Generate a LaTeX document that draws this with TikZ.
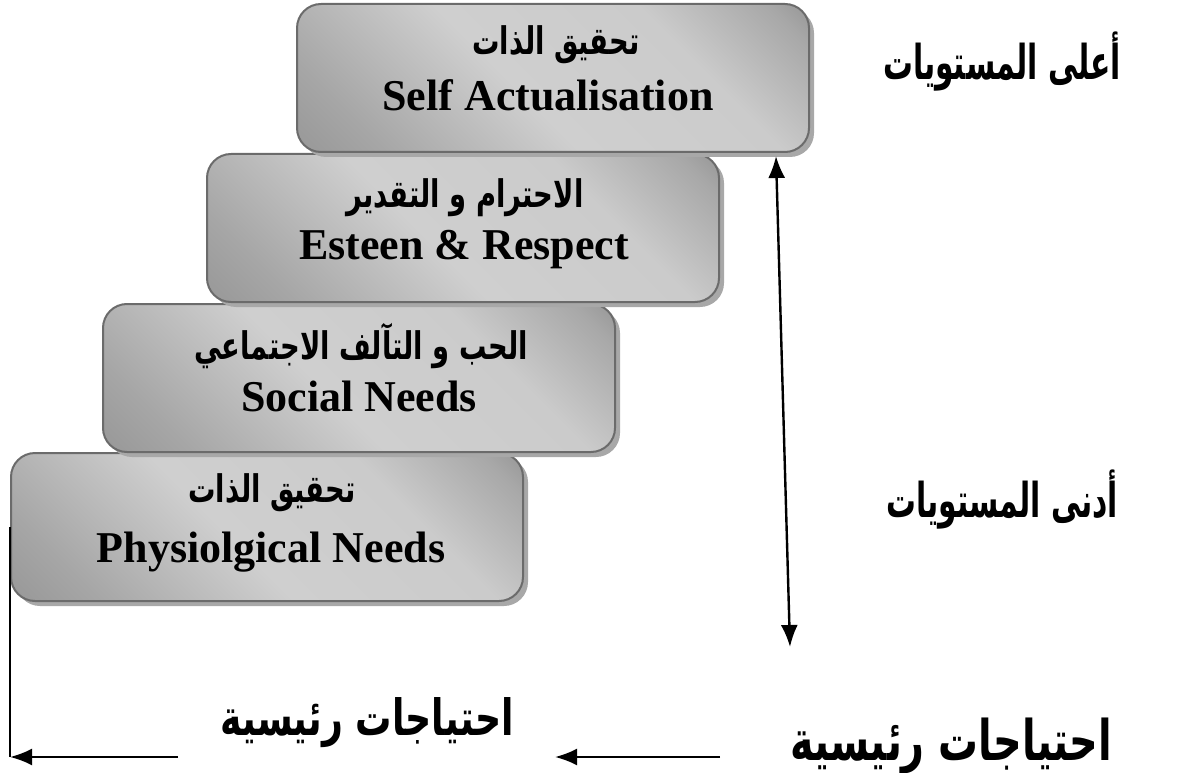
\documentclass[tikz,border=0pt]{standalone}
\usepackage{fontspec}
\setmainfont{Liberation Serif}
\newfontfamily\arabicfont[Script=Arabic]{DejaVu Sans}
\TeXXeTstate=1
\usetikzlibrary{arrows.meta,shadows,calc}

\definecolor{boxline}{HTML}{6B6B6B}
\definecolor{shadowgray}{HTML}{A8A8A8}
\definecolor{stopA}{HTML}{8C8C8C}
\definecolor{stopB}{HTML}{A6A6A6}
\definecolor{stopC}{HTML}{CFCFCF}
\definecolor{stopD}{HTML}{CBCBCB}
\definecolor{stopE}{HTML}{A8A8A8}
\definecolor{stopF}{HTML}{787878}

% metallic gray ramp, bottom to top
\pgfdeclareverticalshading{stepmetal}{100bp}{%
  color(0bp)=(stopA); color(7bp)=(stopA); color(24bp)=(stopB); color(45bp)=(stopC);
  color(67bp)=(stopD); color(81bp)=(stopE); color(93bp)=(stopF); color(100bp)=(stopF)}

% Arabic run, narrowed horizontally
\newcommand{\arline}[2]{\scalebox{#1}[1]{#2}}

\begin{document}
\begin{tikzpicture}[x=1pt,y=-1pt,
  stepbox/.style={rounded corners=24pt, draw=boxline, line width=2pt,
    minimum width=512pt, minimum height=148pt, anchor=north west, inner sep=0pt,
    drop shadow={shadow xshift=5pt, shadow yshift=-5pt, fill=shadowgray, opacity=1},
    shading=stepmetal, shading angle=-45},
  entext/.style={font=\fontsize{44}{50}\selectfont\bfseries, inner sep=0pt, anchor=base},
  artext/.style={font=\arabicfont\fontsize{38}{44}\selectfont\bfseries, inner sep=0pt, anchor=base},
  sidetext/.style={font=\arabicfont\fontsize{48}{54}\selectfont\bfseries, inner sep=0pt, anchor=base},
  link/.style={line width=2.4pt, black},
  tip/.style={-{Latex[length=22pt,width=17pt]}},
  bitip/.style={{Latex[length=22pt,width=17pt]}-{Latex[length=22pt,width=17pt]}}
]
\path[use as bounding box] (0,0) rectangle (1178,773);

% the four steps, lowest first
\node[stepbox] (b4) at (10,452) {};
\node[stepbox] (b3) at (102,303) {};
\node[stepbox] (b2) at (206,153) {};
\node[stepbox] (b1) at (296,3) {};

% step captions
\node[artext] (a1) at ($(b1.north)+(3,52)$) {\arline{0.72}{\beginR تحقيق الذات\endR}};
\node[entext] (e1) at ($(b1.north)+(-5,108)$) {Self Actualisation};
\node[artext] (a2) at ($(b2.north)+(2,54)$) {\arline{0.72}{\beginR الاحترام و التقدير\endR}};
\node[entext] (e2) at ($(b2.north)+(1,106)$) {Esteen \& Respect};
\node[artext] (a3) at ($(b3.north)+(2,56)$) {\arline{0.72}{\beginR الحب و التآلف الاجتماعي\endR}};
\node[entext] (e3) at ($(b3.north)+(0,108)$) {Social Needs};
\node[artext] (a4) at ($(b4.north)+(5,50)$) {\arline{0.72}{\beginR تحقيق الذات\endR}};
\node[entext] (e4) at ($(b4.north)+(4,110)$) {Physiolgical Needs};

% level labels on the right
\node[sidetext] (hiLbl) at (1002,80) {\arline{0.62}{\beginR أعلى المستويات\endR}};
\node[sidetext] (loLbl) at (1002,517) {\arline{0.62}{\beginR أدنى المستويات\endR}};

% labels along the bottom
\node[sidetext, font=\arabicfont\fontsize{56}{60}\selectfont\bfseries] (baseR) at (951,760) {\arline{0.71}{\beginR احتياجات رئيسية\endR}};
\node[sidetext, font=\arabicfont\fontsize{50}{56}\selectfont\bfseries] (baseL) at (367,735) {\arline{0.725}{\beginR احتياجات رئيسية\endR}};

% vertical double arrow between the levels
\coordinate (hi) at (776,156);
\coordinate (lo) at (790,647);
\draw[link, bitip] (lo) -- (hi);

% bracket from the lowest step down to the base
\coordinate (c0) at (10,527);
\coordinate (c1) at (10,757);
\coordinate (c2) at (178,757);
\draw[line width=1.6pt] (c0) -- (c1);
\draw[link, tip] (c2) -- (c1);

% middle arrow pointing left
\coordinate (m1) at (720,757);
\coordinate (m2) at (555,757);
\draw[link, tip] (m1) -- (m2);
\end{tikzpicture}
\end{document}
